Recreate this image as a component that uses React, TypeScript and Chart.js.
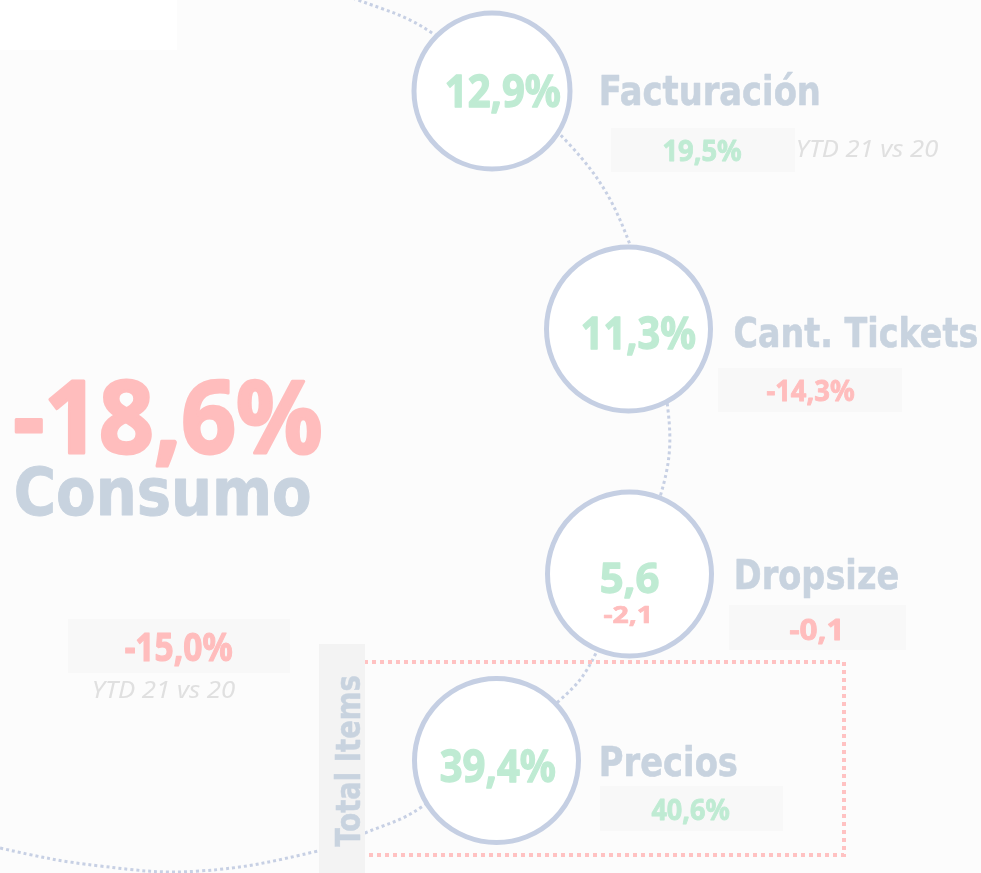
import React, { useEffect, useRef } from 'react';
import { Chart, registerables } from 'chart.js';

Chart.register(...registerables);

const W = 981;
const H = 873;

// ---------- data ----------
const metricLabels = ['Facturación', 'Cant. Tickets', 'Dropsize', 'Precios'];
const metricValues = [12.9, 11.3, 5.6, 39.4];
const metricUnits = ['%', '%', '', '%'];
const ytdValues = [19.5, -14.3, -0.1, 40.6];
const dropsizeChange = -2.1;
const consumoLabel = 'Consumo';
const consumoValue = -18.6;
const consumoYtd = -15.0;
const ytdLabel = 'YTD 21 vs 20';
const groupLabel = 'Total Items';

// ---------- layout (positions / sizes in canvas units) ----------
const nodeX = [492, 628.5, 629.5, 496.5];
const nodeY = [91, 329, 574, 760.5];
const nodeRadius = [78, 82, 82, 82];
const arcPathX = [250, 358, 432, 570, 632, 668, 660, 595, 560, 420, 365, 318, 200, 100, 0, -60];
const arcPathY = [-35, 0, 33, 145, 250, 410, 497, 655, 700, 808, 833, 851, 871, 866, 848, 830];

type Span = { x0: number; x1: number; base: number; size: number };
type Rect = { x0: number; x1: number; y0: number; y1: number };

const valueText: Span[] = [
  { x0: 446, x1: 561, base: 107, size: 45 },
  { x0: 582, x1: 696, base: 349, size: 45 },
  { x0: 601, x1: 659, base: 593, size: 42 },
  { x0: 440, x1: 556, base: 782, size: 45 },
];
const labelText: Span[] = [
  { x0: 601, x1: 819, base: 105, size: 40 },
  { x0: 735, x1: 977, base: 347, size: 40 },
  { x0: 736, x1: 898, base: 589, size: 41 },
  { x0: 601, x1: 737, base: 776, size: 41 },
];
const ytdBox: Rect[] = [
  { x0: 611, x1: 795, y0: 128, y1: 172 },
  { x0: 718, x1: 902, y0: 368, y1: 412 },
  { x0: 729, x1: 906, y0: 605, y1: 650 },
  { x0: 600, x1: 783, y0: 786, y1: 831 },
];
const ytdText: Span[] = [
  { x0: 663, x1: 742, base: 161, size: 29 },
  { x0: 766, x1: 855, base: 401, size: 29 },
  { x0: 789, x1: 840, base: 640, size: 29 },
  { x0: 651, x1: 730, base: 820, size: 29 },
];
const ytdNoteText: Span = { x0: 798, x1: 938, base: 157, size: 24 };
const dropsizeSubText: Span = { x0: 603, x1: 649, base: 623, size: 24 };
const consumoValueText: Span = { x0: 14, x1: 322, base: 453, size: 101 };
const consumoLabelText: Span = { x0: 16, x1: 310, base: 515, size: 66 };
const consumoBox: Rect = { x0: 68, x1: 290, y0: 619, y1: 673 };
const consumoYtdText: Span = { x0: 125, x1: 233, base: 661, size: 39 };
const consumoNoteText: Span = { x0: 94, x1: 235, base: 698, size: 24 };
const groupBox: Rect = { x0: 319, x1: 365, y0: 644, y1: 873 };
const groupText = { baseX: 360, yStart: 847, yEnd: 676, size: 34 };
const groupFrame: Rect = { x0: 340, x1: 844, y0: 662, y1: 855 };
const topPanel: Rect = { x0: 0, x1: 177, y0: 0, y1: 50 };

// ---------- styles ----------
const BG = '#fcfcfc';
const MINT = '#bfebd3';
const PINK = '#ffbdbd';
const LABEL = '#c8d3df';
const NOTE = '#e0e0e0';
const RING = '#c5cfe3';
const ARC = '#c7d0e4';
const BOX = '#f8f8f8';
const GROUP_BOX = '#f3f3f3';
const FRAME = '#ffc2c2';
const NUM_FONT = '"Noto Sans", "DejaVu Sans", sans-serif';
const LABEL_FONT = '"DejaVu Sans", "Noto Sans", sans-serif';

const fmt = (v: number, unit: string) => v.toFixed(1).replace('.', ',') + unit;
const signColor = (v: number) => (v >= 0 ? MINT : PINK);

function drawFitPx(ctx: CanvasRenderingContext2D, text: string, font: string, color: string, px0: number, px1: number, py: number, thicken = 0) {
  ctx.save();
  ctx.font = font;
  ctx.textAlign = 'left';
  ctx.textBaseline = 'alphabetic';
  const m = ctx.measureText(text);
  const inkW = m.actualBoundingBoxLeft + m.actualBoundingBoxRight + thicken;
  const sx = inkW > 0 ? (px1 - px0) / inkW : 1;
  ctx.translate(px0 + (m.actualBoundingBoxLeft + thicken / 2) * sx, py);
  ctx.scale(sx, 1);
  ctx.fillStyle = color;
  ctx.fillText(text, 0, 0);
  if (thicken > 0) {
    ctx.strokeStyle = color;
    ctx.lineWidth = thicken;
    ctx.lineJoin = 'round';
    ctx.strokeText(text, 0, 0);
  }
  ctx.restore();
}

function App() {
  const ref = useRef<HTMLCanvasElement | null>(null);

  useEffect(() => {
    if (!ref.current) return;
    const px = (chart: any, x: number) => chart.scales.x.getPixelForValue(x);
    const py = (chart: any, y: number) => chart.scales.y.getPixelForValue(y);
    const fillRect = (chart: any, ctx: CanvasRenderingContext2D, r: Rect, color: string) => {
      const x0 = px(chart, r.x0), x1 = px(chart, r.x1), y0 = py(chart, r.y0), y1 = py(chart, r.y1);
      ctx.fillStyle = color;
      ctx.fillRect(x0, y0, x1 - x0, y1 - y0);
    };
    const text = (chart: any, ctx: CanvasRenderingContext2D, t: string, s: Span, family: string, weight: string, color: string, thick = 0) => {
      drawFitPx(ctx, t, `${weight} ${s.size}px ${family}`, color, px(chart, s.x0), px(chart, s.x1), py(chart, s.base), s.size * thick);
    };

    const deco = {
      id: 'deco',
      beforeDraw(chart: any) {
        const ctx = chart.ctx as CanvasRenderingContext2D;
        ctx.save();
        ctx.fillStyle = BG;
        ctx.fillRect(0, 0, chart.width, chart.height);
        fillRect(chart, ctx, topPanel, '#ffffff');
        ctx.restore();
      },
      afterDatasetDraw(chart: any, args: any) {
        if (args.index !== 1) return;
        const ctx = chart.ctx as CanvasRenderingContext2D;
        ctx.save();
        ctx.strokeStyle = FRAME;
        ctx.lineWidth = 4;
        ctx.setLineDash([4, 4]);
        const fx0 = px(chart, groupFrame.x0), fx1 = px(chart, groupFrame.x1);
        const fy0 = py(chart, groupFrame.y0), fy1 = py(chart, groupFrame.y1);
        ctx.strokeRect(fx0, fy0, fx1 - fx0, fy1 - fy0);
        ctx.setLineDash([]);
        fillRect(chart, ctx, groupBox, GROUP_BOX);
        ytdBox.forEach((b) => fillRect(chart, ctx, b, BOX));
        fillRect(chart, ctx, consumoBox, BOX);
        ctx.restore();
      },
      afterDatasetsDraw(chart: any) {
        const ctx = chart.ctx as CanvasRenderingContext2D;
        const T = 0.03;
        metricValues.forEach((v, i) => {
          text(chart, ctx, fmt(v, metricUnits[i]), valueText[i], NUM_FONT, 'bold', signColor(v), T);
          text(chart, ctx, metricLabels[i], labelText[i], LABEL_FONT, 'bold', LABEL, 0.015);
          text(chart, ctx, fmt(ytdValues[i], metricUnits[i]), ytdText[i], NUM_FONT, 'bold', signColor(ytdValues[i]), T);
        });
        text(chart, ctx, fmt(dropsizeChange, ''), dropsizeSubText, NUM_FONT, 'bold', signColor(dropsizeChange), T);
        text(chart, ctx, ytdLabel, ytdNoteText, NUM_FONT, 'italic', NOTE);
        text(chart, ctx, fmt(consumoValue, '%'), consumoValueText, NUM_FONT, 'bold', signColor(consumoValue), T);
        text(chart, ctx, consumoLabel, consumoLabelText, LABEL_FONT, 'bold', LABEL, 0.015);
        text(chart, ctx, fmt(consumoYtd, '%'), consumoYtdText, NUM_FONT, 'bold', signColor(consumoYtd), T);
        text(chart, ctx, ytdLabel, consumoNoteText, NUM_FONT, 'italic', NOTE);
        ctx.save();
        ctx.translate(px(chart, groupText.baseX), py(chart, groupText.yStart));
        ctx.rotate(-Math.PI / 2);
        const len = py(chart, groupText.yStart) - py(chart, groupText.yEnd);
        drawFitPx(ctx, groupLabel, `bold ${groupText.size}px ${LABEL_FONT}`, LABEL, 0, len, 0, groupText.size * 0.015);
        ctx.restore();
      },
    };

    const chart = new Chart(ref.current, {
      type: 'scatter',
      data: {
        datasets: [
          {
            label: 'nodes',
            order: 0,
            data: nodeX.map((x, i) => ({ x, y: nodeY[i] })),
            pointRadius: nodeRadius,
            pointHoverRadius: nodeRadius,
            pointBorderWidth: 5,
            pointBackgroundColor: '#ffffff',
            pointBorderColor: RING,
            showLine: false,
            clip: false,
          } as any,
          {
            label: 'path',
            order: 1,
            data: arcPathX.map((x, i) => ({ x, y: arcPathY[i] })),
            showLine: true,
            pointRadius: 0,
            borderColor: ARC,
            borderWidth: 3,
            borderDash: [3, 3],
            tension: 0.4,
            fill: false,
            clip: false,
          } as any,
        ],
      },
      options: {
        responsive: false,
        maintainAspectRatio: false,
        animation: false,
        events: [],
        layout: { padding: 0, autoPadding: false } as any,
        elements: { line: { capBezierPoints: false } },
        plugins: { legend: { display: false }, tooltip: { enabled: false } },
        scales: {
          x: { type: 'linear', min: 0, max: W, display: false },
          y: { type: 'linear', min: 0, max: H, reverse: true, display: false },
        },
      },
      plugins: [deco],
    });
    return () => chart.destroy();
  }, []);

  return (
    <div style={{ position: 'fixed', left: 0, top: 0, width: W, height: H, background: BG }}>
      <canvas ref={ref} width={W} height={H} style={{ display: 'block', width: W, height: H }} />
    </div>
  );
}

export default App;
